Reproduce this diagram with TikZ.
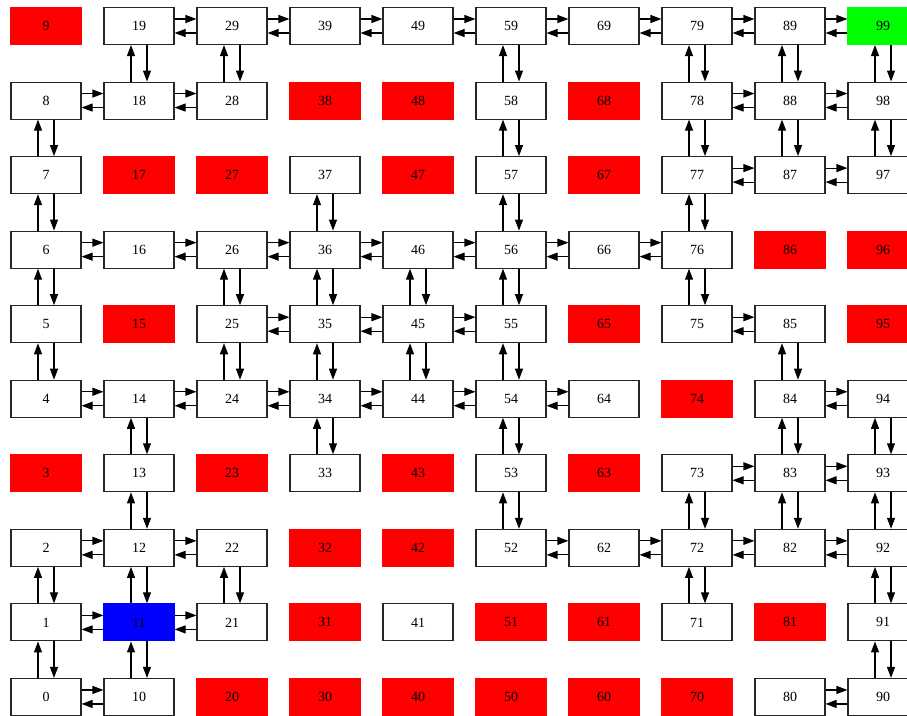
\documentclass[tikz,border=0pt]{standalone}
\usepackage{fontspec}
\setmainfont{Liberation Serif}
\usetikzlibrary{arrows.meta}
\begin{document}
\begin{tikzpicture}[x=1pt,y=1pt,
  cell/.style={draw=black!85, line width=1.1pt, minimum width=70pt, minimum height=37pt, inner sep=0pt, fill=white, font=\fontsize{14}{14}\selectfont},
  obst/.style={cell, draw=red, fill=red},
  startcell/.style={cell, draw=blue, fill=blue},
  goalcell/.style={cell, draw=green, fill=green},
  link/.style={line width=1.1pt, black, -{Triangle[length=11pt,width=8pt]}}
]
\useasboundingbox (0,0) rectangle (907,-715);
% free cells
\foreach \n in {0,1,2,4,5,6,7,8,10,12,13,14,16,18,19,21,22,24,25,26,28,29,33,34,35,36,37,39,41,44,45,46,49,52,53,54,55,56,57,58,59,62,64,66,69,71,72,73,75,76,77,78,79,80,82,83,84,85,87,88,89,90,91,92,93,94,97,98}{
  \pgfmathsetmacro\px{46+93*int(\n/10)}
  \pgfmathsetmacro\py{-(26+74.55*(9-mod(\n,10)))}
  \node[cell] (n\n) at (\px,\py) {\n};
}
% obstacles
\foreach \n in {3,9,15,17,20,23,27,30,31,32,38,40,42,43,47,48,50,51,60,61,63,65,67,68,70,74,81,86,95,96}{
  \pgfmathsetmacro\px{46+93*int(\n/10)}
  \pgfmathsetmacro\py{-(26+74.55*(9-mod(\n,10)))}
  \node[obst] (n\n) at (\px,\py) {\n};
}
\node[startcell] (n11) at (139,{-(26+74.55*8)}) {11};
\node[goalcell] (n99) at (883,-26) {99};
% horizontal edges
\foreach \a/\b in {19/29,29/39,39/49,49/59,59/69,69/79,79/89,89/99,
  8/18,18/28,78/88,88/98,77/87,87/97,
  6/16,16/26,26/36,36/46,46/56,56/66,66/76,
  25/35,35/45,45/55,75/85,
  4/14,14/24,24/34,34/44,44/54,54/64,84/94,
  73/83,83/93,2/12,12/22,52/62,62/72,72/82,82/92,
  1/11,11/21,0/10,80/90}{
  \draw[link] ([yshift=7pt]n\a.east) -- ([yshift=7pt]n\b.west);
  \draw[link] ([yshift=-7pt]n\b.west) -- ([yshift=-7pt]n\a.east);
}
% vertical edges (lower/upper)
\foreach \a/\b in {0/1,1/2,4/5,5/6,6/7,7/8,
  10/11,11/12,12/13,13/14,18/19,
  21/22,24/25,25/26,28/29,
  33/34,34/35,35/36,36/37,44/45,45/46,
  52/53,53/54,54/55,55/56,56/57,57/58,58/59,
  71/72,72/73,75/76,76/77,77/78,78/79,
  82/83,83/84,84/85,87/88,88/89,
  90/91,91/92,92/93,93/94,97/98,98/99}{
  \draw[link] ([xshift=-8pt]n\a.north) -- ([xshift=-8pt]n\b.south);
  \draw[link] ([xshift=8pt]n\b.south) -- ([xshift=8pt]n\a.north);
}
\end{tikzpicture}
\end{document}
